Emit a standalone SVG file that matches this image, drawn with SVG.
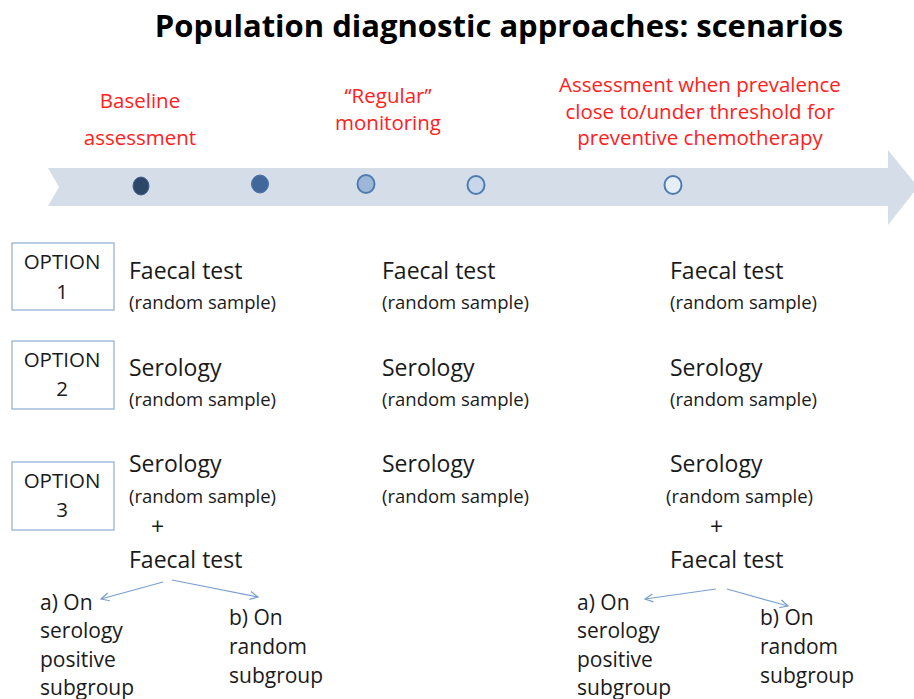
<svg xmlns="http://www.w3.org/2000/svg" width="914" height="699" viewBox="0 0 914 699">
<defs>
<style>
text{font-family:"Open Sans","Liberation Sans",sans-serif;fill:#1a1a1a}
.title{font-size:31px;font-weight:bold;fill:#000}
.red{fill:#ff2020;font-size:20.5px;text-anchor:middle}
.opt{font-size:20.5px;text-anchor:middle}
.big{font-size:23px}
.sub{font-size:21px}
.sm{font-size:18.5px}
.box{fill:#fff;stroke:#95b3d7;stroke-width:1.3}
.conn{stroke:#7aa0d0;stroke-width:1.2;fill:none;marker-end:url(#ah)}
</style>
<marker id="ah" viewBox="0 0 10 10" refX="9" refY="5" markerWidth="10" markerHeight="10" markerUnits="userSpaceOnUse" orient="auto">
<path d="M1,1 L9,5 L1,9" fill="none" stroke="#7aa0d0" stroke-width="1.2"/>
</marker>
</defs>
<rect width="914" height="699" fill="#fff"/>
<text class="title" x="499" y="37" text-anchor="middle">Population diagnostic approaches: scenarios</text>
<g id="timeline">
<path d="M48,168 L888,168 L888,150 L918,187 L888,225 L888,206 L48,206 L59,187 Z" fill="#d5dde9"/>
<ellipse cx="141" cy="186" rx="8" ry="9" fill="#2c4768" stroke="#3d6290" stroke-width="1"/>
<ellipse cx="260" cy="184" rx="8.5" ry="9" fill="#40689a" stroke="#4a76ad" stroke-width="1"/>
<ellipse cx="366" cy="184" rx="8.5" ry="9" fill="#9cb7d8" stroke="#4f7cb0" stroke-width="2"/>
<ellipse cx="476" cy="185" rx="8.5" ry="9" fill="#c7d6ea" stroke="#4f7cb0" stroke-width="2"/>
<ellipse cx="673" cy="185" rx="8.5" ry="9" fill="#e6eef8" stroke="#4f7cb0" stroke-width="2"/>
</g>
<g id="phase-labels">
<text class="red" x="140" y="108">Baseline</text>
<text class="red" x="140" y="145">assessment</text>
<text class="red" x="388" y="103">“Regular”</text>
<text class="red" x="388" y="130">monitoring</text>
<text class="red" x="700" y="92">Assessment when prevalence</text>
<text class="red" x="700" y="119">close to/under threshold for</text>
<text class="red" x="700" y="145">preventive  chemotherapy</text>
</g>
<g id="option1">
<rect class="box" x="12" y="243" width="102" height="67"/>
<text class="opt" x="62" y="269">OPTION</text>
<text class="opt" x="62" y="299">1</text>
</g>
<g id="option2">
<rect class="box" x="12" y="341" width="102" height="68"/>
<text class="opt" x="62" y="367">OPTION</text>
<text class="opt" x="62" y="396">2</text>
</g>
<g id="option3">
<rect class="box" x="12" y="462" width="102" height="68"/>
<text class="opt" x="62" y="488">OPTION</text>
<text class="opt" x="62" y="517">3</text>
</g>
<g id="col1">
<text class="big" x="129" y="279">Faecal test</text>
<text class="sm" x="129" y="309">(random sample)</text>
<text class="big" x="129" y="376">Serology</text>
<text class="sm" x="129" y="406">(random sample)</text>
<text class="big" x="129" y="472">Serology</text>
<text class="sm" x="129" y="503">(random sample)</text>
<text class="big" x="151" y="535">+</text>
<text class="big" x="129" y="568">Faecal test</text>
</g>
<g id="col1-a">
<text class="sub" x="40" y="610">a) On</text>
<text class="sub" x="40" y="638">serology</text>
<text class="sub" x="40" y="667">positive</text>
<text class="sub" x="40" y="695">subgroup</text>
</g>
<g id="col1-b">
<text class="sub" x="229" y="625">b) On</text>
<text class="sub" x="229" y="654">random</text>
<text class="sub" x="229" y="683">subgroup</text>
</g>
<g id="col2">
<text class="big" x="382" y="279">Faecal test</text>
<text class="sm" x="382" y="309">(random sample)</text>
<text class="big" x="382" y="376">Serology</text>
<text class="sm" x="382" y="406">(random sample)</text>
<text class="big" x="382" y="472">Serology</text>
<text class="sm" x="382" y="503">(random sample)</text>
</g>
<g id="col3">
<text class="big" x="670" y="279">Faecal test</text>
<text class="sm" x="670" y="309">(random sample)</text>
<text class="big" x="670" y="376">Serology</text>
<text class="sm" x="670" y="406">(random sample)</text>
<text class="big" x="670" y="472">Serology</text>
<text class="sm" x="666" y="503">(random sample)</text>
<text class="big" x="710" y="535">+</text>
<text class="big" x="670" y="568">Faecal test</text>
</g>
<g id="col3-a">
<text class="sub" x="577" y="610">a) On</text>
<text class="sub" x="577" y="638">serology</text>
<text class="sub" x="577" y="667">positive</text>
<text class="sub" x="577" y="695">subgroup</text>
</g>
<g id="col3-b">
<text class="sub" x="760" y="625">b) On</text>
<text class="sub" x="760" y="654">random</text>
<text class="sub" x="760" y="683">subgroup</text>
</g>
<g id="connectors">
<line class="conn" x1="163" y1="582" x2="101" y2="599"/>
<line class="conn" x1="172" y1="580" x2="258" y2="597"/>
<line class="conn" x1="716" y1="589" x2="645" y2="599"/>
<line class="conn" x1="727" y1="589" x2="788" y2="606"/>
</g>
</svg>
